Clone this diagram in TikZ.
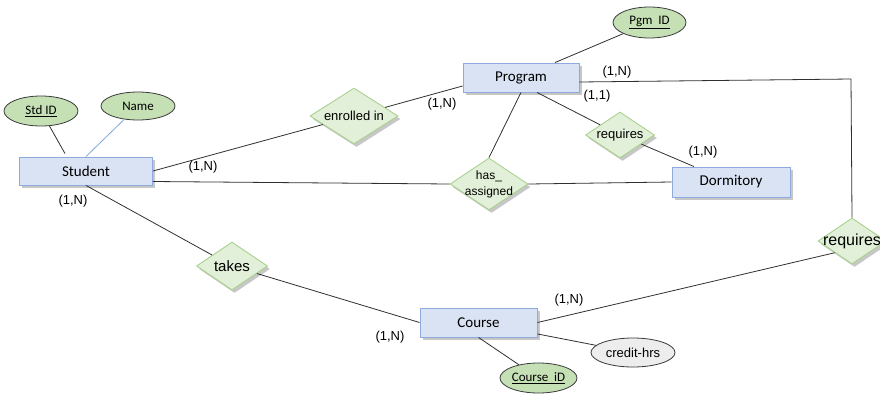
\documentclass[tikz,border=0pt]{standalone}
\usepackage{fontspec}
\setmainfont{Liberation Sans}
\newfontfamily\carlitofont{Carlito}
\usetikzlibrary{shapes.geometric,shadows}
\definecolor{entfill}{HTML}{DAE3F3}
\definecolor{entdraw}{HTML}{8FAADC}
\definecolor{relfill}{HTML}{E2F0D9}
\definecolor{reldraw}{HTML}{A9D18E}
\definecolor{attfill}{HTML}{C5E0B4}
\definecolor{attdraw}{HTML}{3A3A3A}
\definecolor{grayfill}{HTML}{EDEDED}
\definecolor{lnk}{HTML}{303030}
\definecolor{bluelnk}{HTML}{7FA7D8}
\tikzset{
  myshadow/.style={drop shadow={shadow xshift=2.5pt,shadow yshift=-3pt,fill=black,opacity=0.22}},
  entity/.style={rectangle,draw=entdraw,fill=entfill,line width=0.9pt,inner sep=0pt,
    font=\carlitofont\fontsize{15}{18}\selectfont,myshadow},
  rel/.style={diamond,draw=reldraw,fill=relfill,line width=0.9pt,inner sep=-10pt,
    font=\fontsize{13}{15}\selectfont,myshadow},
  attr/.style={ellipse,draw=attdraw,fill=attfill,line width=0.8pt,inner sep=0pt,
    font=\carlitofont\fontsize{13}{15}\selectfont},
  card/.style={inner sep=0pt,font=\fontsize{13}{15}\selectfont},
  link/.style={draw=lnk,line width=0.8pt}
}
\begin{document}
\begin{tikzpicture}[x=1pt,y=-1pt]
\useasboundingbox (0,0) rectangle (880,397);
% entities
\node[entity,minimum width=133pt,minimum height=28pt] (stu) at (86,171) {Student};
\node[entity,minimum width=116pt,minimum height=29pt] (prog) at (521,77.5) {Program};
\node[entity,minimum width=118pt,minimum height=30pt] (dorm) at (731,182) {Dormitory};
\node[entity,minimum width=117pt,minimum height=29pt] (course) at (478.5,322.5) {Course};
% attributes
\node[attr,minimum width=74pt,minimum height=30pt] (sid) at (41,111) {\underline{Std ID}};
\node[attr,minimum width=74pt,minimum height=28pt] (name) at (138,106) {Name};
\node[attr,minimum width=73pt,minimum height=31pt] (pid) at (649.5,22.5) {\underline{Pgm\ \ ID}};
\node[attr,minimum width=77pt,minimum height=30pt] (cid) at (538.5,378) {\underline{Course\ \ iD}};
\node[attr,fill=grayfill,minimum width=84pt,minimum height=29pt,font=\fontsize{13}{15}\selectfont] (cred) at (633,352.5) {credit-hrs};
% relationships
\node[rel,shape aspect=1.57,minimum width=88pt,minimum height=56pt] (enr) at (354,116) {enrolled in};
\node[rel,shape aspect=1.5,inner sep=-14pt,minimum width=78pt,minimum height=52pt,align=center,font=\fontsize{12}{16}\selectfont] (has) at (489,184) {has\_\\assigned};
\node[rel,shape aspect=1.5,minimum width=69pt,minimum height=46pt] (req1) at (620,135) {requires};
\node[rel,shape aspect=1.48,minimum width=68pt,minimum height=46pt,font=\fontsize{16}{18}\selectfont] (req2) at (852,241) {requires};
\node[rel,shape aspect=1.48,minimum width=71pt,minimum height=48pt,font=\fontsize{15}{17}\selectfont] (takes) at (232,266) {takes};
% corner coordinate
\coordinate (corner) at (851,79);
% links
\draw[link] (sid) -- ([xshift=-21pt,yshift=3pt]stu.north);
\draw[link,draw=bluelnk] (name) -- (stu.north);
\draw[link] (pid) -- ([xshift=34pt]prog.north);
\draw[link] (stu.east) -- (enr);
\draw[link] (enr) -- ([yshift=-8.5pt]prog.west);
\draw[link] ([yshift=-10.5pt]stu.east) -- (has.west);
\draw[link] (prog.south) -- (has.north);
\draw[link] (has.east) -- (dorm.west);
\draw[link] ([xshift=16pt]prog.south) -- (req1);
\draw[link] (req1) -- ([xshift=-37pt]dorm.north);
\draw[link] ([yshift=-4.5pt]prog.east) -- (corner) -- (req2.north);
\draw[link] (stu.south) -- (takes);
\draw[link] (takes) -- (course.west);
\draw[link] (course.east) -- (req2.south west);
\draw[link] ([yshift=3.5pt]course.south east) -- (cred);
\draw[link] (course.south) -- (cid);
% cardinalities
\node[card] (c1) at (203,167) {(1,N)};
\node[card] (c2) at (73,201) {(1,N)};
\node[card] (c3) at (442,104) {(1,N)};
\node[card] (c4) at (597,96) {(1,1)};
\node[card] (c5) at (617,72) {(1,N)};
\node[card] (c6) at (703,152) {(1,N)};
\node[card] (c7) at (390,337) {(1,N)};
\node[card] (c8) at (569,300) {(1,N)};
\end{tikzpicture}
\end{document}
